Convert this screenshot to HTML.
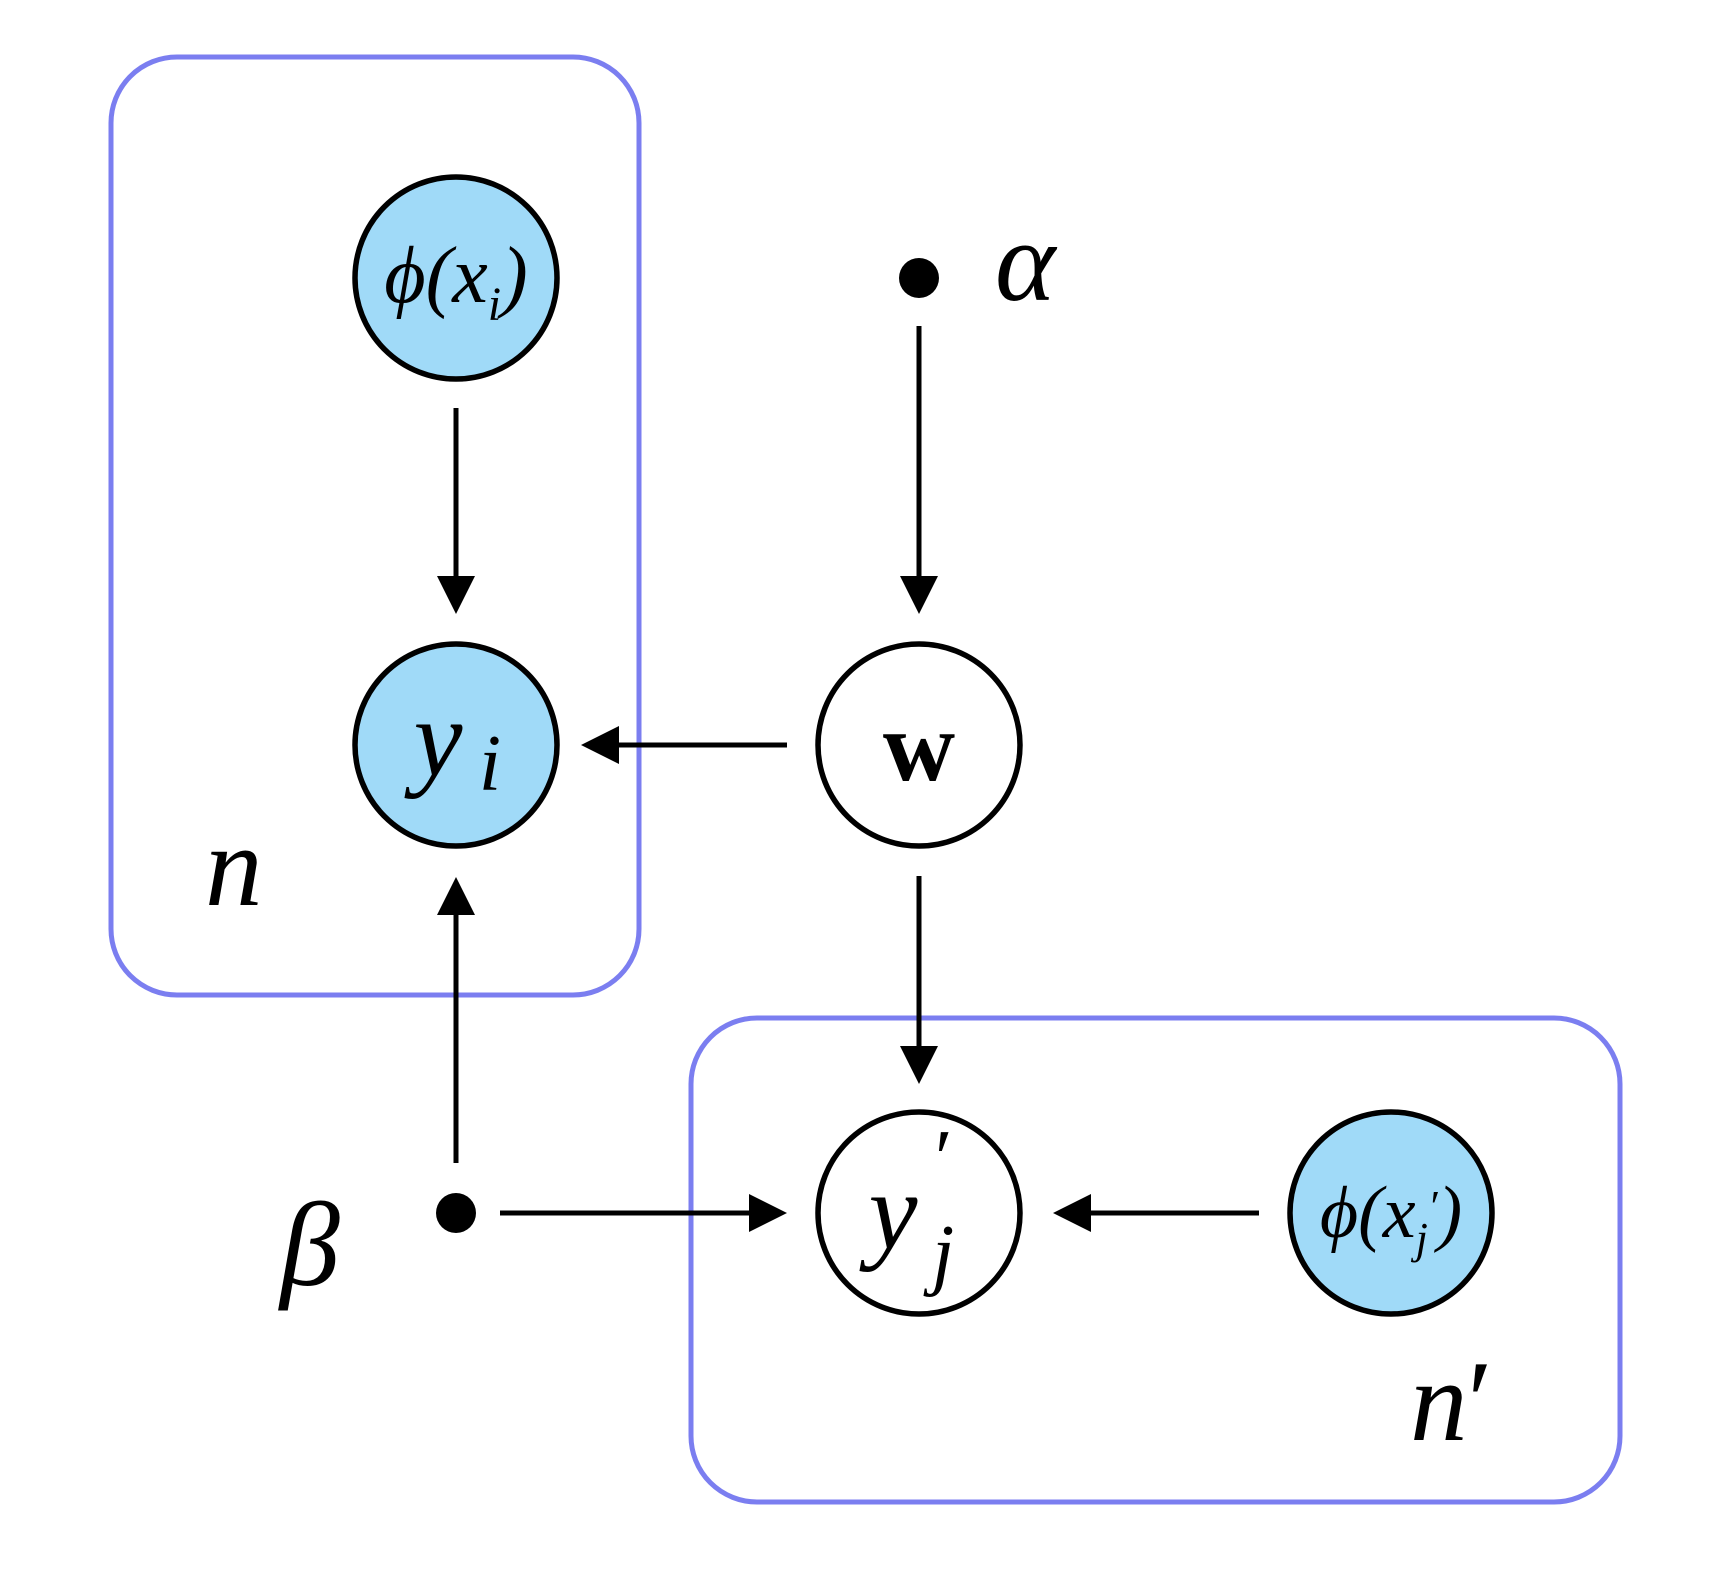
<!DOCTYPE html>
<html><head><style>body{margin:0;background:#fff}</style></head><body>
<svg width="1734" height="1574" viewBox="0 0 1734 1574" xmlns="http://www.w3.org/2000/svg" font-family="Liberation Serif, serif">
<rect x="111" y="57" width="528" height="938" rx="66" fill="none" stroke="#7b7ef0" stroke-width="5"/>
<rect x="691" y="1018" width="929" height="484" rx="66" fill="none" stroke="#7b7ef0" stroke-width="5"/>
<g stroke="#000" stroke-width="5">
<line x1="456" y1="408" x2="456" y2="580"/>
<line x1="919" y1="326" x2="919" y2="580"/>
<line x1="787" y1="745" x2="615" y2="745"/>
<line x1="919" y1="876" x2="919" y2="1050"/>
<line x1="456" y1="1163" x2="456" y2="911"/>
<line x1="500" y1="1213" x2="753" y2="1213"/>
<line x1="1259" y1="1213" x2="1087" y2="1213"/>
</g>
<g fill="#000">
<polygon points="437,576 475,576 456,614"/>
<polygon points="900,576 938,576 919,614"/>
<polygon points="619,726 619,764 581,745"/>
<polygon points="900,1046 938,1046 919,1084"/>
<polygon points="437,915 475,915 456,877"/>
<polygon points="749,1194 749,1232 787,1213"/>
<polygon points="1091,1194 1091,1232 1053,1213"/>
<circle cx="919" cy="278" r="20"/>
<circle cx="456" cy="1213" r="20"/>
</g>
<g stroke="#000" stroke-width="5.5">
<circle cx="456" cy="278" r="101" fill="#a0daf8"/>
<circle cx="456" cy="745" r="101" fill="#a0daf8"/>
<circle cx="919" cy="745" r="101" fill="#fff"/>
<circle cx="919" cy="1213" r="101" fill="#fff"/>
<circle cx="1391" cy="1213" r="101" fill="#a0daf8"/>
</g>
<g font-style="italic" fill="#000">
<text x="456" y="302" font-size="80" text-anchor="middle">ϕ(x<tspan font-size="48" dy="18">i</tspan><tspan dy="-18">)</tspan></text>
<text x="438" y="775" font-size="110" text-anchor="middle">y</text>
<text x="490" y="790" font-size="80" text-anchor="middle">i</text>
<text x="893" y="1248" font-size="110" text-anchor="middle">y</text>
<text x="935" y="1185" font-size="80" font-style="normal">′</text>
<text x="932" y="1280" font-size="80">j</text>
<text x="1391" y="1237" font-size="74" text-anchor="middle">ϕ(x<tspan font-size="44" dy="16">j</tspan><tspan font-size="44" dy="-32">′</tspan><tspan dy="16">)</tspan></text>
<text x="995" y="300" font-size="115">α</text>
<text x="280" y="1285" font-size="120">β</text>
<text x="205" y="905" font-size="115">n</text>
<text x="1410" y="1440" font-size="115">n<tspan font-style="normal">′</tspan></text>
</g>
<text x="919" y="780" font-size="100" font-weight="bold" text-anchor="middle" font-family="Liberation Serif, serif">w</text>
</svg>
</body></html>
